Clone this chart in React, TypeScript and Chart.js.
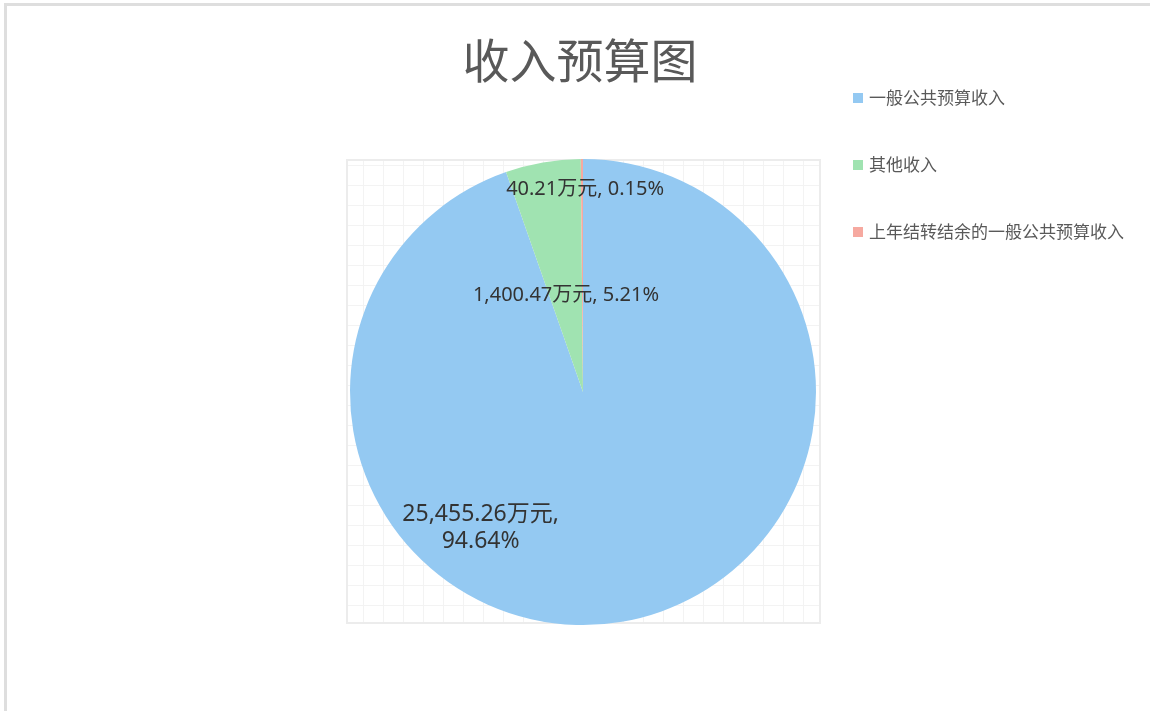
import React, { useEffect, useRef } from "react";
import { Chart, registerables } from "chart.js";

Chart.register(...registerables);

const titleText = "收入预算图";
const unit = "万元";
const categories = ["一般公共预算收入", "其他收入", "上年结转结余的一般公共预算收入"];
const values = [25455.26, 1400.47, 40.21];
const colors = ["#94c9f2", "#a0e3b1", "#f6a9a0"];

// label placement: angle clockwise from 12 o'clock (deg), distance as fraction of radius
const labelAngles = [217, -10, 0.6];
const labelRadii = [0.73, 0.42, 0.87];
const labelWrap = [true, false, false];
const labelSizes = [23, 20, 20];

const FONT = '"Noto Sans CJK SC", "Microsoft YaHei", sans-serif';
const LABEL_FONT = '"Noto Sans", "Noto Sans CJK SC", sans-serif';

const W = 1150;
const H = 711;

const fmtNum = (v: number) =>
  v.toLocaleString("en-US", { minimumFractionDigits: 2, maximumFractionDigits: 2 });

const decorPlugin = {
  id: "decor",
  beforeDraw(chart: any) {
    const ctx = chart.ctx;
    const meta = chart.getDatasetMeta(0);
    const arc = meta.data[0];
    if (!arc) return;
    const { x: cx, y: cy, outerRadius: r } = arc.getProps(["x", "y", "outerRadius"], true);
    ctx.save();
    ctx.fillStyle = "#ffffff";
    ctx.fillRect(0, 0, W, H);
    // outer frame
    ctx.strokeStyle = "#dedede";
    ctx.lineWidth = 3;
    ctx.strokeRect(5.5, 4.5, W + 20, H + 20);
    // grid behind pie
    const gl = Math.round(cx - r - 3);
    const gr = Math.round(cx + r + 4);
    const gt = Math.round(cy - r + 1);
    const gb = Math.round(cy + r - 2);
    ctx.strokeStyle = "#f3f3f3";
    ctx.lineWidth = 1;
    ctx.beginPath();
    for (let x = gr - 17; x > gl; x -= 20) {
      ctx.moveTo(x + 0.5, gt);
      ctx.lineTo(x + 0.5, gb);
    }
    for (let y = gb - 18; y > gt; y -= 20) {
      ctx.moveTo(gl, y + 0.5);
      ctx.lineTo(gr, y + 0.5);
    }
    ctx.stroke();
    ctx.strokeStyle = "#ececec";
    ctx.lineWidth = 2;
    ctx.strokeRect(gl, gt, gr - gl, gb - gt);
    ctx.restore();
  },
  afterDraw(chart: any) {
    const ctx = chart.ctx;
    const meta = chart.getDatasetMeta(0);
    const arc0 = meta.data[0];
    if (!arc0) return;
    const { x: cx, y: cy, outerRadius: r } = arc0.getProps(["x", "y", "outerRadius"], true);
    const data: number[] = chart.data.datasets[0].data;
    const total = data.reduce((a, b) => a + b, 0);
    ctx.save();
    // title
    ctx.fillStyle = "#595959";
    ctx.font = `47px ${FONT}`;
    ctx.textAlign = "center";
    ctx.textBaseline = "middle";
    ctx.fillText(titleText, 580, 60);
    // data labels
    ctx.fillStyle = "#333333";
    data.forEach((v, i) => {
      ctx.font = `${labelSizes[i]}px ${LABEL_FONT}`;
      const a = (labelAngles[i] * Math.PI) / 180;
      const d = labelRadii[i] * r;
      const lx = cx + Math.sin(a) * d;
      const ly = cy - Math.cos(a) * d;
      const pct = ((v / total) * 100).toFixed(2) + "%";
      const lines = labelWrap[i]
        ? [fmtNum(v) + unit + ",", pct]
        : [fmtNum(v) + unit + ", " + pct];
      const lh = 27;
      lines.forEach((t, k) => {
        ctx.fillText(t, lx, ly + (k - (lines.length - 1) / 2) * lh);
      });
    });
    // legend
    const labels: string[] = chart.data.labels;
    ctx.textAlign = "left";
    ctx.font = `17px ${FONT}`;
    labels.forEach((t, i) => {
      const y = 98 + i * 67;
      ctx.fillStyle = colors[i];
      ctx.fillRect(853, y - 5, 10, 10);
      ctx.fillStyle = "#595959";
      ctx.fillText(t, 869, y);
    });
    ctx.restore();
  },
};

export default function App() {
  const ref = useRef<HTMLCanvasElement | null>(null);
  useEffect(() => {
    if (!ref.current) return;
    const chart = new Chart(ref.current, {
      type: "pie",
      data: {
        labels: categories,
        datasets: [
          {
            data: values,
            backgroundColor: colors,
            borderWidth: 0,
          },
        ],
      },
      options: {
        responsive: false,
        animation: false,
        layout: { padding: { left: 350, right: 334, top: 159, bottom: 86 } },
        plugins: {
          legend: { display: false },
          title: { display: false },
          tooltip: { enabled: false },
        },
      },
      plugins: [decorPlugin],
    });
    return () => chart.destroy();
  }, []);
  return (
    <div style={{ position: "fixed", left: 0, top: 0, width: W, height: H, background: "#fff" }}>
      <canvas ref={ref} width={W} height={H} style={{ width: W, height: H, display: "block" }} />
    </div>
  );
}
